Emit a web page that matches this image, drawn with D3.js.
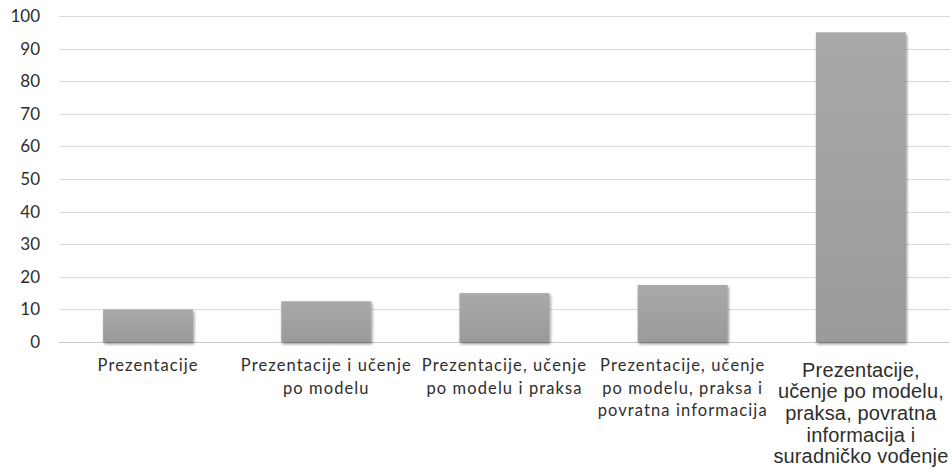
<!DOCTYPE html>
<html>
<head>
<meta charset="utf-8">
<script src="https://cdn.jsdelivr.net/npm/d3@7"></script>
<style>
  html, body { margin: 0; padding: 0; background: #fff; }
  svg { display: block; }
</style>
</head>
<body>
<svg id="chart" width="952" height="475"></svg>
<script>
// Categories (each entry is a list of label lines) and their values
const categories = [
  ["Prezentacije"],
  ["Prezentacije i učenje", "po modelu"],
  ["Prezentacije, učenje", "po modelu i praksa"],
  ["Prezentacije, učenje", "po modelu, praksa i", "povratna informacija"],
  ["Prezentacije,", "učenje po modelu,", "praksa, povratna", "informacija i", "suradničko vođenje"]
];
const values = [10, 12.5, 15, 17.5, 95];
const yTicks = [0, 10, 20, 30, 40, 50, 60, 70, 80, 90, 100];

const svg = d3.select("#chart");
const margin = { top: 16, right: 2, bottom: 133, left: 59 };
const width = 952 - margin.left - margin.right;
const height = 475 - margin.top - margin.bottom;

const defs = svg.append("defs");
const grad = defs.append("linearGradient")
  .attr("id", "barFill").attr("x1", 0).attr("y1", 0).attr("x2", 0).attr("y2", 1);
grad.append("stop").attr("offset", "0%").attr("stop-color", "#a9a9a9");
grad.append("stop").attr("offset", "100%").attr("stop-color", "#9a9a9a");
const shadow = defs.append("filter").attr("id", "barShadow")
  .attr("x", "-10%").attr("y", "-10%").attr("width", "130%").attr("height", "130%");
shadow.append("feGaussianBlur").attr("in", "SourceAlpha").attr("stdDeviation", 1.6).attr("result", "b");
shadow.append("feOffset").attr("in", "b").attr("dx", 1).attr("dy", 1.5).attr("result", "o");
shadow.append("feComponentTransfer").attr("in", "o").attr("result", "s")
  .append("feFuncA").attr("type", "linear").attr("slope", 0.45);
const merge = shadow.append("feMerge");
merge.append("feMergeNode").attr("in", "s");
merge.append("feMergeNode").attr("in", "SourceGraphic");

const g = svg.append("g").attr("transform", `translate(${margin.left},${margin.top})`);

const x = d3.scaleBand()
  .domain(d3.range(categories.length))
  .range([0, width])
  .paddingInner(0.495)
  .paddingOuter(0.2475);

const y = d3.scaleLinear().domain([0, 100]).range([height, 0]);

// Horizontal gridlines
g.append("g")
  .selectAll("line")
  .data(yTicks)
  .join("line")
  .attr("x1", 0).attr("x2", width)
  .attr("y1", d => Math.round(y(d)) + 0.5).attr("y2", d => Math.round(y(d)) + 0.5)
  .attr("stroke", d => d === 0 ? "#c8c8c8" : "#d9d9d9")
  .attr("stroke-width", 1.2);

// Y axis labels
const yAxis = d3.axisLeft(y).tickValues(yTicks).tickSize(0).tickPadding(19);
const yg = g.append("g").call(yAxis);
yg.select(".domain").remove();
yg.selectAll("text")
  .attr("font-family", "Lato, 'Open Sans', sans-serif")
  .attr("font-size", 17)
  .attr("fill", "#2e2e2e");

// Bars
g.append("g")
  .selectAll("rect")
  .data(values)
  .join("rect")
  .attr("x", (d, i) => x(i))
  .attr("y", d => y(d))
  .attr("width", x.bandwidth())
  .attr("height", d => y(0) - y(d))
  .attr("fill", "url(#barFill)")
  .attr("filter", "url(#barShadow)");

// Category labels; the last, longest one is set larger in a different face
const last = categories.length - 1;
const labels = g.append("g")
  .selectAll("text")
  .data(categories)
  .join("text")
  .attr("text-anchor", "middle")
  .attr("fill", "#2e2e2e")
  .attr("font-family", (d, i) => i === last ? "'Liberation Sans', Arial, sans-serif" : "Lato, 'Open Sans', sans-serif")
  .attr("font-size", (d, i) => i === last ? 20 : 16.5)
  .attr("letter-spacing", (d, i) => i === last ? 0.15 : 1.1)
  .attr("transform", (d, i) => `translate(${x(i) + x.bandwidth() / 2},${height + (i === last ? 34.5 : 29)})`);

labels.each(function (lines, i) {
  const step = i === last ? 21.7 : 22.5;
  d3.select(this).selectAll("tspan")
    .data(lines)
    .join("tspan")
    .attr("x", 0)
    .attr("y", (d, k) => k * step)
    .text(d => d);
});
</script>
</body>
</html>
